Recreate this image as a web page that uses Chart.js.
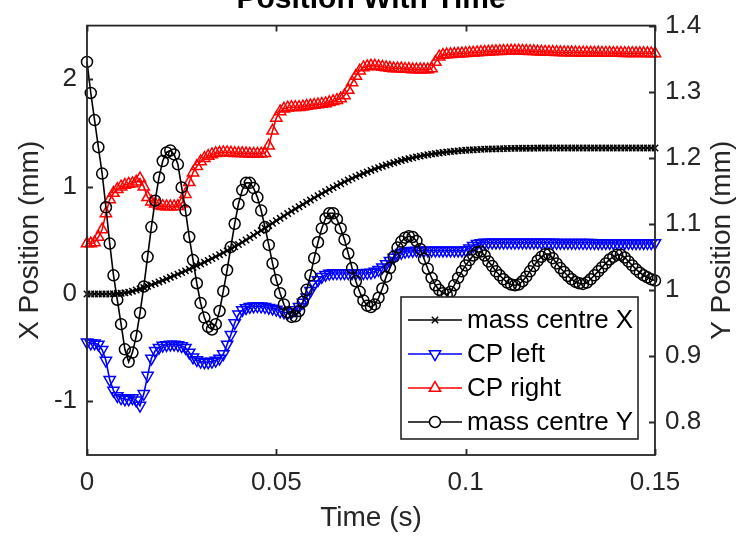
<!DOCTYPE html>
<html>
<head>
<meta charset="utf-8">
<title>Position With Time</title>
<script src="https://cdn.jsdelivr.net/npm/chart.js@4.4.0/dist/chart.umd.min.js"></script>
<style>
  html, body { margin: 0; padding: 0; background: #fff; }
  #position-chart { display: block; }
</style>
</head>
<body>
<canvas id="position-chart" width="744" height="538"></canvas>
<script>
// sampled every 1 ms from 0 to 0.15 s
const sampleCount = 151;
const samplePeriod = 0.001;

const timeTicks = [0, 0.05, 0.1, 0.15];
const timeTickLabels = ['0', '0.05', '0.1', '0.15'];
const xPosTicks = [-1, 0, 1, 2];
const xPosTickLabels = ['-1', '0', '1', '2'];
const yPosTicks = [0.8, 0.9, 1, 1.1, 1.2, 1.3, 1.4];
const yPosTickLabels = ['0.8', '0.9', '1', '1.1', '1.2', '1.3', '1.4'];

// X position (mm), left axis
const massCentreX = [
  0, 0, 0, 0, 0, 0, 0, 0.002, 0.004, 0.007,
  0.011, 0.016, 0.026, 0.037, 0.048, 0.06, 0.072, 0.085, 0.098, 0.112,
  0.126, 0.14, 0.155, 0.17, 0.185, 0.2, 0.215, 0.231, 0.247, 0.263,
  0.279, 0.296, 0.313, 0.33, 0.348, 0.366, 0.384, 0.402, 0.42, 0.44,
  0.461, 0.482, 0.503, 0.525, 0.547, 0.569, 0.591, 0.613, 0.636, 0.659,
  0.682, 0.705, 0.727, 0.749, 0.771, 0.792, 0.813, 0.834, 0.855, 0.875,
  0.895, 0.915, 0.935, 0.954, 0.973, 0.991, 1.009, 1.027, 1.044, 1.061,
  1.077, 1.093, 1.108, 1.123, 1.137, 1.151, 1.164, 1.177, 1.189, 1.201,
  1.212, 1.223, 1.233, 1.243, 1.252, 1.261, 1.269, 1.277, 1.284, 1.291,
  1.297, 1.303, 1.308, 1.313, 1.318, 1.322, 1.326, 1.33, 1.333, 1.336,
  1.339, 1.341, 1.343, 1.345, 1.347, 1.349, 1.35, 1.351, 1.352, 1.353,
  1.354, 1.355, 1.356, 1.356, 1.357, 1.357, 1.358, 1.358, 1.358, 1.359,
  1.359, 1.359, 1.359, 1.36, 1.36, 1.36, 1.36, 1.36, 1.36, 1.36,
  1.36, 1.36, 1.36, 1.36, 1.36, 1.36, 1.36, 1.36, 1.36, 1.36,
  1.36, 1.36, 1.36, 1.36, 1.36, 1.36, 1.36, 1.36, 1.36, 1.36,
  1.36
];

const cpLeft = [
  -0.45, -0.46, -0.46, -0.47, -0.52, -0.62, -0.8, -0.9, -0.95, -0.97,
  -0.98, -0.98, -0.97, -0.99, -1.04, -0.93, -0.76, -0.6, -0.53, -0.5,
  -0.48, -0.475, -0.47, -0.47, -0.475, -0.485, -0.5, -0.545, -0.59, -0.615,
  -0.63, -0.635, -0.635, -0.63, -0.62, -0.6, -0.56, -0.47, -0.38, -0.27,
  -0.19, -0.15, -0.13, -0.12, -0.115, -0.113, -0.115, -0.12, -0.128, -0.135,
  -0.145, -0.16, -0.17, -0.175, -0.17, -0.15, -0.12, -0.08, -0.03, 0.03,
  0.09, 0.13, 0.16, 0.18, 0.19, 0.195, 0.195, 0.195, 0.195, 0.195,
  0.195, 0.195, 0.195, 0.195, 0.197, 0.2, 0.21, 0.225, 0.25, 0.28,
  0.31, 0.34, 0.37, 0.385, 0.395, 0.4, 0.403, 0.405, 0.405, 0.405,
  0.405, 0.405, 0.405, 0.405, 0.405, 0.405, 0.405, 0.405, 0.405, 0.406,
  0.41, 0.425, 0.45, 0.468, 0.476, 0.479, 0.48, 0.48, 0.48, 0.48,
  0.48, 0.48, 0.48, 0.48, 0.48, 0.48, 0.48, 0.48, 0.48, 0.48,
  0.479, 0.479, 0.479, 0.479, 0.478, 0.478, 0.478, 0.478, 0.478, 0.477,
  0.477, 0.477, 0.477, 0.477, 0.476, 0.476, 0.476, 0.476, 0.476, 0.476,
  0.475, 0.475, 0.475, 0.475, 0.475, 0.475, 0.475, 0.475, 0.475, 0.475,
  0.475
];

const cpRight = [
  0.47, 0.47, 0.48, 0.53, 0.6, 0.75, 0.88, 0.94, 0.975, 1.0,
  1.015, 1.025, 1.03, 1.045, 1.075, 1.0, 0.9, 0.86, 0.84, 0.825,
  0.818, 0.815, 0.815, 0.815, 0.818, 0.84, 0.93, 1.04, 1.13, 1.19,
  1.235, 1.265, 1.285, 1.3, 1.31, 1.315, 1.318, 1.318, 1.315, 1.312,
  1.31, 1.31, 1.308, 1.306, 1.305, 1.305, 1.306, 1.31, 1.38, 1.52,
  1.64, 1.7, 1.725, 1.735, 1.74, 1.74, 1.74, 1.745, 1.75, 1.755,
  1.76, 1.765, 1.77, 1.775, 1.785, 1.795, 1.805, 1.82, 1.85, 1.9,
  1.97, 2.03, 2.08, 2.11, 2.12, 2.125, 2.125, 2.12, 2.115, 2.11,
  2.105, 2.1, 2.1, 2.1, 2.095, 2.095, 2.09, 2.09, 2.09, 2.09,
  2.09, 2.1, 2.16, 2.21, 2.225, 2.23, 2.232, 2.235, 2.237, 2.24,
  2.242, 2.245, 2.247, 2.25, 2.252, 2.254, 2.256, 2.258, 2.26, 2.262,
  2.263, 2.264, 2.265, 2.265, 2.265, 2.264, 2.263, 2.262, 2.26, 2.258,
  2.256, 2.255, 2.254, 2.253, 2.252, 2.251, 2.25, 2.25, 2.249, 2.249,
  2.248, 2.248, 2.247, 2.247, 2.246, 2.246, 2.245, 2.245, 2.245, 2.244,
  2.244, 2.244, 2.243, 2.243, 2.243, 2.242, 2.242, 2.242, 2.242, 2.241,
  2.241
];

// Y position (mm), right axis
const massCentreY = [
  1.345, 1.298, 1.257, 1.216, 1.176, 1.125, 1.07, 1.022, 0.985, 0.948,
  0.91, 0.891, 0.905, 0.93, 0.965, 1.005, 1.05, 1.095, 1.135, 1.17,
  1.195, 1.208, 1.211, 1.205, 1.19, 1.155, 1.12, 1.08, 1.045, 1.01,
  0.98, 0.958, 0.944, 0.94, 0.948, 0.968, 0.998, 1.03, 1.065, 1.1,
  1.13, 1.151, 1.162, 1.162, 1.154, 1.14, 1.12, 1.095, 1.068, 1.04,
  1.015, 0.995, 0.978, 0.966, 0.959, 0.96, 0.968, 0.982, 1.0, 1.022,
  1.048, 1.072, 1.093, 1.108, 1.116, 1.116, 1.107, 1.093, 1.076, 1.055,
  1.033, 1.013, 0.997, 0.984, 0.976, 0.974, 0.978, 0.988, 1.002, 1.02,
  1.033, 1.05, 1.064, 1.073, 1.079, 1.081, 1.08, 1.074, 1.062, 1.047,
  1.032, 1.018, 1.007, 1.0, 0.995, 0.993, 0.997, 1.007, 1.018, 1.028,
  1.037, 1.045, 1.052, 1.057, 1.058, 1.052, 1.043, 1.036, 1.028, 1.022,
  1.016, 1.011, 1.008, 1.007, 1.008, 1.013, 1.02, 1.028, 1.036, 1.044,
  1.05, 1.054, 1.054, 1.048, 1.04, 1.033, 1.027, 1.021, 1.016, 1.012,
  1.01, 1.009, 1.011, 1.016, 1.022, 1.028, 1.034, 1.04, 1.046, 1.05,
  1.053, 1.053, 1.049, 1.043, 1.037, 1.031, 1.026, 1.022, 1.019, 1.016,
  1.014
];

const time = Array.from({ length: sampleCount }, (_, i) => +(i * samplePeriod).toFixed(3));
const toPoints = values => values.map((v, i) => ({ x: time[i], y: v }));

const FONT = "'Liberation Sans', Arial, Helvetica, sans-serif";
const AXIS_COLOR = '#262626';
Chart.defaults.font.family = FONT;

// matlab-ish look: box round the axes, ticks pointing inward,
// a legend box inside the axes and the title half off the top
const matlabFrame = {
  id: 'matlabFrame',
  afterDatasetsDraw(chart) {
    const { ctx, chartArea: a, scales } = chart;
    const tick = 6;
    ctx.save();
    ctx.strokeStyle = AXIS_COLOR;
    ctx.lineWidth = 1.8;
    ctx.strokeRect(a.left, a.top, a.width, a.height);
    ctx.beginPath();
    timeTicks.forEach(v => {
      const x = Math.round(scales.x.getPixelForValue(v)) + 0.5;
      ctx.moveTo(x, a.bottom); ctx.lineTo(x, a.bottom - tick);
      ctx.moveTo(x, a.top); ctx.lineTo(x, a.top + tick);
    });
    xPosTicks.forEach(v => {
      const y = Math.round(scales.yLeft.getPixelForValue(v)) + 0.5;
      ctx.moveTo(a.left, y); ctx.lineTo(a.left + tick, y);
    });
    yPosTicks.forEach(v => {
      const y = Math.round(scales.yRight.getPixelForValue(v)) + 0.5;
      ctx.moveTo(a.right, y); ctx.lineTo(a.right - tick, y);
    });
    ctx.stroke();
    ctx.restore();
  },
  afterDraw(chart) {
    const { ctx, chartArea: a } = chart;
    ctx.save();

    // title
    ctx.fillStyle = '#000';
    ctx.font = 'bold 30px ' + FONT;
    ctx.textAlign = 'center';
    ctx.textBaseline = 'alphabetic';
    ctx.fillText('Position With Time', (a.left + a.right) / 2, 8);

    // right axis label reads bottom to top
    ctx.save();
    ctx.translate(722, (a.top + a.bottom) / 2);
    ctx.rotate(-Math.PI / 2);
    ctx.fillStyle = AXIS_COLOR;
    ctx.font = '28px ' + FONT;
    ctx.textBaseline = 'middle';
    ctx.fillText('Y Position (mm)', 0, 0);
    ctx.restore();

    // legend
    const box = { left: 401, top: 297, right: 638, bottom: 439 };
    ctx.fillStyle = '#fff';
    ctx.fillRect(box.left, box.top, box.right - box.left, box.bottom - box.top);
    ctx.strokeStyle = AXIS_COLOR;
    ctx.lineWidth = 1.6;
    ctx.strokeRect(box.left, box.top, box.right - box.left, box.bottom - box.top);
    ctx.font = '26px ' + FONT;
    ctx.textAlign = 'left';
    ctx.textBaseline = 'middle';
    chart.data.datasets.forEach((ds, i) => {
      const y = box.top + 23 + i * 34;
      ctx.strokeStyle = ds.borderColor;
      ctx.lineWidth = 1.5;
      ctx.beginPath();
      ctx.moveTo(408, y);
      ctx.lineTo(462, y);
      ctx.stroke();
      // open marker: white inside so the line does not show through
      ctx.fillStyle = '#fff';
      ctx.lineWidth = ds.pointBorderWidth;
      Chart.helpers.drawPoint(ctx, {
        pointStyle: ds.pointStyle,
        rotation: ds.pointRotation || 0,
        radius: ds.pointRadius,
        borderWidth: ds.pointBorderWidth
      }, 435, y);
      ctx.fillStyle = '#000';
      ctx.fillText(ds.label, 467, y + 1);
    });
    ctx.restore();
  }
};

const series = (label, values, axis, color, style, radius, order, rotation) => ({
  label,
  data: toPoints(values),
  yAxisID: axis,
  borderColor: color,
  borderWidth: 1.6,
  pointStyle: style,
  pointRotation: rotation || 0,
  pointRadius: radius,
  pointBorderColor: color,
  pointBackgroundColor: 'rgba(0,0,0,0)',
  pointBorderWidth: 1.5,
  fill: false,
  tension: 0,
  clip: 10,
  order
});

const ctx = document.getElementById('position-chart').getContext('2d');

const positionChart = new Chart(ctx, {
  type: 'line',
  data: {
    datasets: [
      series('mass centre X', massCentreX, 'yLeft', '#000000', 'crossRot', 4.5, 3),
      series('CP left', cpLeft, 'yLeft', '#0000ff', 'triangle', 6.5, 2, 180),
      series('CP right', cpRight, 'yLeft', '#ff0000', 'triangle', 6.5, 1),
      series('mass centre Y', massCentreY, 'yRight', '#000000', 'circle', 5.5, 0)
    ]
  },
  options: {
    responsive: false,
    animation: false,
    devicePixelRatio: 1,
    events: [],
    layout: { padding: { top: 18, left: 0, right: 0, bottom: 0 } },
    plugins: {
      legend: { display: false },
      tooltip: { enabled: false },
      title: { display: false }
    },
    scales: {
      x: {
        type: 'linear',
        min: 0,
        max: 0.15,
        afterBuildTicks: s => { s.ticks = timeTicks.map(v => ({ value: v })); },
        afterFit: s => { s.height = 83; },
        grid: { display: false, drawTicks: false },
        border: { display: false },
        ticks: {
          autoSkip: false, maxRotation: 0, padding: 12,
          color: AXIS_COLOR, font: { size: 26 },
          callback: (v, i) => timeTickLabels[i]
        },
        title: {
          display: true, text: 'Time (s)', color: AXIS_COLOR,
          font: { size: 28 }, padding: { top: 0, bottom: 3 }
        }
      },
      yLeft: {
        type: 'linear',
        position: 'left',
        min: -1.5,
        max: 2.5,
        afterBuildTicks: s => { s.ticks = xPosTicks.map(v => ({ value: v })); },
        afterFit: s => { s.width = 87; },
        grid: { display: false, drawTicks: false },
        border: { display: false },
        ticks: {
          autoSkip: false, padding: 10,
          color: AXIS_COLOR, font: { size: 26 },
          callback: (v, i) => xPosTickLabels[i]
        },
        title: {
          display: true, text: 'X Position (mm)', color: AXIS_COLOR,
          font: { size: 28 }, padding: { top: 13, bottom: 0 }
        }
      },
      yRight: {
        type: 'linear',
        position: 'right',
        min: 0.75,
        max: 1.4,
        afterBuildTicks: s => { s.ticks = yPosTicks.map(v => ({ value: v })); },
        afterFit: s => { s.width = 89; },
        grid: { display: false, drawTicks: false },
        border: { display: false },
        ticks: {
          autoSkip: false, padding: 10,
          color: AXIS_COLOR, font: { size: 26 },
          callback: (v, i) => yPosTickLabels[i]
        }
      }
    }
  },
  plugins: [matlabFrame]
});
</script>
</body>
</html>
